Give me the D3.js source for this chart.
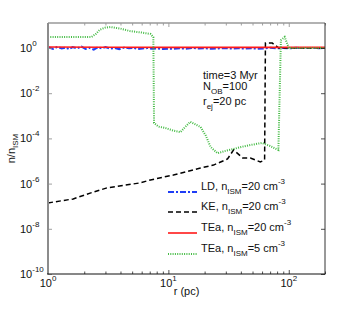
<!DOCTYPE html>
<html><head><meta charset="utf-8">
<script src="https://cdn.jsdelivr.net/npm/d3@7"></script>
<style>
body{margin:0;background:#fff;}
svg{display:block;font-family:"Liberation Sans",Arial,sans-serif;}
</style></head>
<body><svg id="c" width="359" height="309"></svg>
<script>
// ---------- data ----------
const ldR = [1,1.1,1.2,1.3,1.4,1.5,1.6,1.75,1.9,2.05,2.2,2.4,2.6,2.8,3.0,3.3,3.6,3.9,4.3,4.7,5.1,5.6,6.1,6.7,7.3,8,9,10,11,12.5,14,16,18,20,23,26,30,34,38,43,49,55,62,70,80,90,100,115,130,150,175,200];
const ldN = [1.08,0.92,1.12,0.95,1.05,0.88,1.1,0.97,1.15,0.9,1.02,0.85,1.08,0.96,1.1,0.93,1.0,0.88,1.05,0.97,1.02,0.9,0.95,1.0,0.92,0.96,0.9,0.94,0.92,0.97,0.93,1.0,0.95,0.98,0.92,0.96,0.99,0.94,0.97,0.95,0.98,0.93,0.96,1.02,0.97,1.0,0.96,1.02,0.99,1.01,0.98,1.0];

const keR = [1,1.62,2.24,3.1,5.8,7.1,11,18.5,23.7,31,34.8,41.5,48,58,63,64,73,83,200];
const keN = [1.4e-7,2.1e-7,3.8e-7,6.5e-7,1.07e-6,1.45e-6,2.4e-6,4.9e-6,6.6e-6,1.23e-5,3.1e-5,1.35e-5,1.35e-5,9.1e-6,1.1e-5,1.65,1.65,1.0,1.0];

const teaR = [1,3,10,50,200];
const teaN = [1.1,1.08,1.07,1.07,1.07];

const tea5R = [1,2.3,2.5,2.7,3.0,3.3,4.0,4.8,6.0,7.1,7.5,7.6,8.3,9.4,11,12.6,14,15.2,17,18.5,20.5,22.4,25.6,29,34.8,41,48,60,70,82,86,92.5,100,200];
const tea5N = [3.1,3.1,4.2,6.5,8.0,8.5,7.2,5.6,4.8,4.2,3.0,4.8e-4,3.3e-4,2.9e-4,2.2e-4,1.9e-4,3.5e-4,5.4e-4,4.0e-4,3.2e-4,1.3e-4,4.2e-5,2.2e-5,2.7e-5,3.4e-5,4.3e-5,5.1e-5,6.3e-5,4.6e-5,3.1e-5,2.2,3.1,1.0,1.0];

const xTicks = [1,10,100];
const xTickExp = ["0","1","2"];
const yTicks = [1,1e-2,1e-4,1e-6,1e-8,1e-10];
const yTickExp = ["0","-2","-4","-6","-8","-10"];

const legendItems = [
  {name:"LD", n:"20", color:"#1f3df5", dash:"6,2,2,2", w:2},
  {name:"KE", n:"20", color:"#000", dash:"5,3", w:1.5},
  {name:"TEa", n:"20", color:"#ff1a1a", dash:null, w:1.6},
  {name:"TEa", n:"5", color:"#44bb44", dash:"1,1.3", w:2}
];

// ---------- layout ----------
const svg = d3.select("#c");
const L=48, R=325, T=23, B=274;
const x = d3.scaleLog().domain([1,200]).range([L,R]);
const y = d3.scaleLog().domain([1e-10, Math.pow(10,1.106)]).range([B,T]);

const line = d3.line().x(d=>x(d[0])).y(d=>y(d[1]));
svg.append("clipPath").attr("id","cp").append("rect")
  .attr("x",L).attr("y",T).attr("width",R-L).attr("height",B-T);
const plot = svg.append("g").attr("clip-path","url(#cp)");

function draw(rs, ns, item){
  plot.append("path").datum(d3.zip(rs,ns)).attr("d",line)
    .attr("fill","none").attr("stroke",item.color).attr("stroke-width",item.w)
    .attr("stroke-dasharray",item.dash);
}
draw(ldR, ldN, legendItems[0]);
draw(keR, keN, legendItems[1]);
draw(teaR, teaN, legendItems[2]);
draw(tea5R, tea5N, legendItems[3]);

// ---------- axes ----------
const minor = [];
[1,10,100].forEach(d=>{for(let k=2;k<=9;k++){const v=d*k; if(v<=200) minor.push(v);}});
const gxb = svg.append("g").attr("transform",`translate(0,${B})`).call(d3.axisBottom(x).tickValues(xTicks).tickSize(-4).tickFormat(""));
const gxbm = svg.append("g").attr("transform",`translate(0,${B})`).call(d3.axisBottom(x).tickValues(minor).tickSize(-2.5).tickFormat(""));
const gxt = svg.append("g").attr("transform",`translate(0,${T})`).call(d3.axisTop(x).tickValues(xTicks).tickSize(-4).tickFormat(""));
const gxtm = svg.append("g").attr("transform",`translate(0,${T})`).call(d3.axisTop(x).tickValues(minor).tickSize(-2.5).tickFormat(""));
const gyl = svg.append("g").attr("transform",`translate(${L},0)`).call(d3.axisLeft(y).tickValues(yTicks).tickSize(-4).tickFormat(""));
const gyr = svg.append("g").attr("transform",`translate(${R},0)`).call(d3.axisRight(y).tickValues(yTicks).tickSize(-4).tickFormat(""));
[gxb,gxbm,gyr].forEach(g=>{g.selectAll("line").attr("stroke","#222").attr("stroke-width",0.8); g.select(".domain").remove();});
[gxt,gxtm,gyl].forEach(g=>{g.selectAll("line").attr("stroke","#888").attr("stroke-width",0.8); g.select(".domain").remove();});
// frame
svg.append("line").attr("x1",L).attr("x2",R).attr("y1",T).attr("y2",T).attr("stroke","#999").attr("stroke-width",1.5);
svg.append("line").attr("x1",L).attr("x2",L).attr("y1",T).attr("y2",B).attr("stroke","#8c8c8c").attr("stroke-width",2);
svg.append("line").attr("x1",R).attr("x2",R).attr("y1",T).attr("y2",B).attr("stroke","#333").attr("stroke-width",1);
svg.append("line").attr("x1",L-1).attr("x2",R+0.5).attr("y1",B).attr("y2",B).attr("stroke","#111").attr("stroke-width",1.2);

// tick labels
xTicks.forEach((v,i)=>{
  const t = svg.append("text").attr("x",x(v)).attr("y",287).attr("text-anchor","middle")
    .attr("font-size",11).attr("fill","#111");
  t.append("tspan").text("10");
  t.append("tspan").attr("font-size",8).attr("dy",-6).text(xTickExp[i]);
});
yTicks.forEach((v,i)=>{
  const t = svg.append("text").attr("x",20).attr("y",y(v)+4).attr("text-anchor","start")
    .attr("font-size",11).attr("fill","#111");
  t.append("tspan").text("10");
  t.append("tspan").attr("font-size",8).attr("dy",-6).text(yTickExp[i]);
});

// axis titles
svg.append("text").attr("x",(L+R)/2).attr("y",295).attr("text-anchor","middle")
  .attr("font-size",11).attr("fill","#111").text("r (pc)");
const yl = svg.append("text").attr("transform",`translate(15,${(T+B)/2}) rotate(-90)`)
  .attr("text-anchor","middle").attr("font-size",11).attr("fill","#111");
yl.append("tspan").text("n/n");
yl.append("tspan").attr("font-size",8).attr("dy",3).text("ISM");

// annotation
function sub(t, main, s, rest){
  t.append("tspan").text(main);
  t.append("tspan").attr("font-size",8).attr("dy",4).text(s);
  t.append("tspan").attr("dy",-4).text(rest);
}
svg.append("text").attr("x",203).attr("y",79).attr("font-size",11).attr("fill","#111").text("time=3 Myr");
sub(svg.append("text").attr("x",203).attr("y",90).attr("font-size",11).attr("fill","#111"),"N","OB","=100");
sub(svg.append("text").attr("x",203).attr("y",105).attr("font-size",11).attr("fill","#111"),"r","ej","=20 pc");

// legend
const legY = [192,212,233,254];
legendItems.forEach((it,i)=>{
  const ly = legY[i];
  svg.append("line").attr("x1",168).attr("x2",197).attr("y1",ly).attr("y2",ly)
    .attr("stroke",it.color).attr("stroke-width",it.w).attr("stroke-dasharray",it.dash);
  const t = svg.append("text").attr("x",201).attr("y",ly-2.5).attr("font-size",11).attr("fill","#111");
  t.append("tspan").text(it.name+", n");
  t.append("tspan").attr("font-size",8).attr("dy",4).text("ISM");
  t.append("tspan").attr("dy",-4).text("="+it.n+" cm");
  t.append("tspan").attr("font-size",8).attr("dy",-6).text("-3");
});
</script></body></html>
